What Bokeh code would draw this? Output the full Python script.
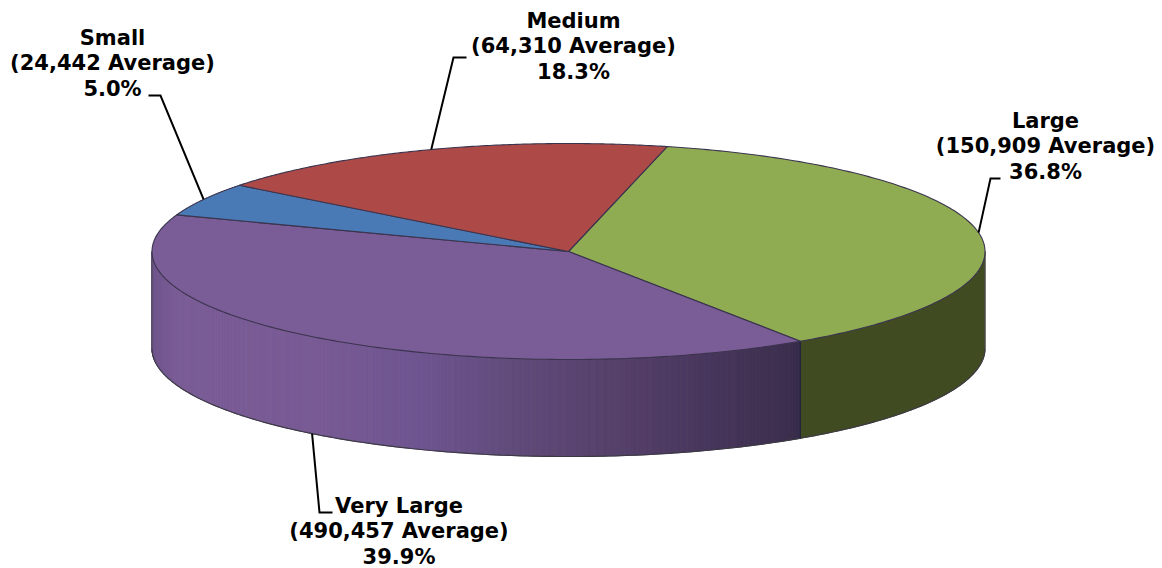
import numpy as np
from bokeh.plotting import figure
from bokeh.models import Range1d
from bokeh.embed import file_html
from bokeh.resources import INLINE
from bokeh.core.properties import value

# --- data ---
categories = ["Large", "Very Large", "Small", "Medium"]
averages = ["150,909", "490,457", "24,442", "64,310"]
shares = [36.8, 39.9, 5.0, 18.3]

# --- styles and layout ---
top_colors = ["#8FAC53", "#7A5C96", "#4A7AB6", "#AD4A47"]
side_green = "#414B22"
edge = "#3B344E"
W, H = 1162, 568
OFF = 0
CX, CY, RX, RY, DEPTH = 568.0, 251.0, 416.5, 108.0, 97.0
START_DEG = 76.3
FONT = "DejaVu Sans"
FS = "21px"
LINE_GAP = 25.5
label_centers = {"Large": (1045, 120), "Very Large": (398.5, 505),
                 "Small": (112, 37), "Medium": (573, 20)}
# leader elbow (point next to the label) and its short tail end
leader_elbows = {"Large": ((990, 178), (1000, 178)), "Very Large": ((319, 512), (332, 512)),
                 "Small": ((160, 95), (148, 95)), "Medium": ((453, 57), (466, 57))}
side_stops_x = [152, 175, 320, 420, 520, 620, 720, 792, 800]
side_stops_c = ["#70558C", "#7A5C96", "#785A94", "#6E5590", "#5F4A78", "#55406A", "#46355A", "#3B2E4C", "#332A48"]


def ex(t):
    return CX + RX * np.cos(np.radians(t))


def ey(t, drop=0.0):
    return CY - RY * np.sin(np.radians(t)) + drop


def side_color(x):
    rgb = np.array([[int(c[i:i + 2], 16) for i in (1, 3, 5)] for c in side_stops_c], float)
    vals = [np.interp(x, side_stops_x, rgb[:, k]) for k in range(3)]
    return "#%02x%02x%02x" % tuple(int(round(v)) for v in vals)


p = figure(width=W, height=H, output_backend="svg", toolbar_location=None,
           x_range=Range1d(OFF, OFF + W), y_range=Range1d(OFF + H, OFF),
           min_border=0, outline_line_color=None, background_fill_color="white")
p.axis.visible = False
p.grid.visible = False

# slice boundaries, clockwise from the start angle
sweeps = np.array(shares) / sum(shares) * 360.0
ends = START_DEG - np.cumsum(sweeps)
starts = ends + sweeps
bounds = dict(zip(categories, zip(starts, ends)))

# side wall: green slice (visible down to the right-hand edge)
g0, g1 = bounds["Large"]
ts = np.linspace(0, g1, 80)
p.patch(list(ex(ts)) + list(ex(ts[::-1])),
        list(ey(ts, DEPTH)) + list(ey(ts[::-1])),
        fill_color=side_green, line_color=side_green, line_width=1)

# side wall: purple slice, in narrow shaded strips
tv = np.linspace(g1, -180, 340)
xs, ys, cols = [], [], []
for a, b in zip(tv[:-1], tv[1:]):
    xs.append([ex(a), ex(b), ex(b), ex(a)])
    ys.append([ey(a), ey(b), ey(b, DEPTH), ey(a, DEPTH)])
    cols.append(side_color((ex(a) + ex(b)) / 2))
p.patches(xs, ys, fill_color=cols, line_color=cols, line_width=1)

# side wall outline
tb = np.linspace(0, -180, 240)
p.line(ex(tb), ey(tb, DEPTH), line_color="#3C3A44", line_width=1.2)
for t in (0, -180):
    p.line([ex(t), ex(t)], [ey(t), ey(t, DEPTH)], line_color="#4A4A50", line_width=1)
p.line([ex(g1), ex(g1)], [ey(g1), ey(g1, DEPTH)], line_color="#20233A", line_width=1)

# top face
for name, col in zip(categories, top_colors):
    s, e = bounds[name]
    tt = np.linspace(s, e, 140)
    p.patch([CX] + list(ex(tt)), [CY] + list(ey(tt)), fill_color=col,
            line_color=edge, line_width=1.1, line_join="round")

# leaders, attached at the middle of each slice's outer edge
for name in categories:
    s, e = bounds[name]
    mid = (s + e) / 2
    drop = DEPTH if np.sin(np.radians(mid)) < 0 else 0.0
    (ex1, ey1), (tx, ty) = leader_elbows[name]
    p.line([ex(mid), ex1, tx], [ey(mid, drop), ey1, ty], line_color="black",
           line_width=2, line_join="miter")

# labels
for name, avg, sh in zip(categories, averages, shares):
    cx, cy = label_centers[name]
    lines = [name, "(%s Average)" % avg, "%.1f%%" % sh]
    p.text(x=[cx] * 3, y=[cy + i * LINE_GAP for i in range(3)], text=lines,
           text_font=value(FONT), text_font_style="bold", text_font_size=FS,
           text_color="black", text_align="center", text_baseline="middle")

html = file_html(p, INLINE)
open("out.html", "w").write(html)
